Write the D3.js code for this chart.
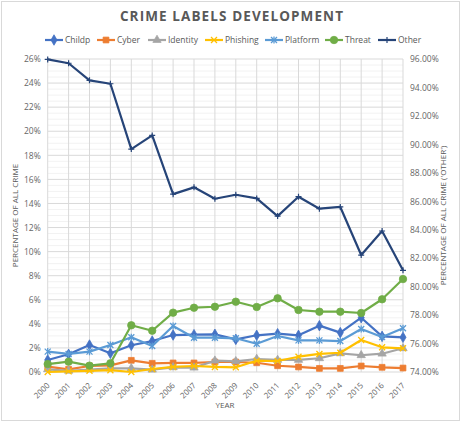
<!DOCTYPE html>
<html>
<head>
<meta charset="utf-8">
<script src="https://cdn.jsdelivr.net/npm/d3@7"></script>
<style>
  body { margin: 0; background: #fff; }
  svg text { font-family: "Open Sans", "Liberation Sans", sans-serif; fill: #595959; }
</style>
</head>
<body>
<div id="chart"></div>
<script>
"use strict";

// values in percent of all crime
var years = [2000, 2001, 2002, 2003, 2004, 2005, 2006, 2007, 2008, 2009, 2010, 2011, 2012, 2013, 2014, 2015, 2016, 2017];
var childp   = [1.00, 1.47, 2.24, 1.55, 2.22, 2.57, 3.07, 3.10, 3.13, 2.71, 3.05, 3.18, 3.05, 3.85, 3.27, 4.51, 2.96, 2.88];
var cyber    = [0.44, 0.22, 0.50, 0.55, 0.97, 0.72, 0.75, 0.75, 0.83, 0.83, 0.77, 0.52, 0.42, 0.30, 0.30, 0.50, 0.39, 0.33];
var identity = [0.22, 0.10, 0.20, 0.30, 0.30, 0.19, 0.39, 0.36, 0.94, 0.89, 1.08, 1.00, 1.00, 1.14, 1.55, 1.39, 1.52, 1.97];
var phishing = [0.00, 0.05, 0.10, 0.15, 0.00, 0.25, 0.42, 0.50, 0.42, 0.39, 0.94, 0.91, 1.27, 1.50, 1.60, 2.66, 2.05, 1.97];
var platform = [1.69, 1.50, 1.69, 2.24, 2.88, 2.16, 3.82, 2.85, 2.85, 2.80, 2.35, 2.99, 2.63, 2.63, 2.57, 3.57, 2.90, 3.63];
var threat   = [0.66, 0.86, 0.53, 0.72, 3.88, 3.43, 4.93, 5.34, 5.42, 5.84, 5.40, 6.12, 5.15, 5.01, 5.01, 4.90, 6.04, 7.72];
var other    = [95.97, 95.70, 94.50, 94.26, 89.67, 90.63, 86.50, 86.98, 86.18, 86.46, 86.20, 84.96, 86.32, 85.48, 85.60, 82.22, 83.91, 81.15];

var leftTicks = d3.range(0, 27, 2);
var rightTicks = d3.range(74, 97, 2);

var series = [
	{ name: "Childp",   values: childp,   color: "#4472C4", marker: "diamond" },
	{ name: "Cyber",    values: cyber,    color: "#ED7D31", marker: "square" },
	{ name: "Identity", values: identity, color: "#A5A5A5", marker: "triangle" },
	{ name: "Phishing", values: phishing, color: "#FFC000", marker: "x" },
	{ name: "Platform", values: platform, color: "#5B9BD5", marker: "star" },
	{ name: "Threat",   values: threat,   color: "#70AD47", marker: "circle" },
	{ name: "Other",    values: other,    color: "#264478", marker: "plus", secondary: true }
];

var W = 465, H = 422;
var plot = { left: 47.7, right: 403, top: 59, bottom: 372 };

var svg = d3.select("#chart").append("svg")
	.attr("width", W)
	.attr("height", H);

svg.append("rect")
	.attr("x", 1.5).attr("y", 1.5)
	.attr("width", 458).attr("height", 419)
	.attr("fill", "#fff")
	.attr("stroke", "#d9d9d9");

var x = d3.scalePoint().domain(years).range([plot.left, plot.right]);
var yL = d3.scaleLinear().domain([0, 26]).range([plot.bottom, plot.top]);
var yR = d3.scaleLinear().domain([74, 96]).range([plot.bottom, plot.top]);

// gridlines
var grid = svg.append("g");
grid.selectAll(".minor")
	.data(d3.range(0, 26.01, 0.5).filter(function (d) { return d % 2 !== 0; }))
	.enter().append("line")
	.attr("x1", plot.left).attr("x2", plot.right)
	.attr("y1", function (d) { return yL(d); })
	.attr("y2", function (d) { return yL(d); })
	.attr("stroke", "#ededed").attr("stroke-width", 0.75);
grid.selectAll(".major")
	.data(leftTicks)
	.enter().append("line")
	.attr("x1", plot.left).attr("x2", plot.right)
	.attr("y1", function (d) { return yL(d); })
	.attr("y2", function (d) { return yL(d); })
	.attr("stroke", "#d9d9d9").attr("stroke-width", 1);
grid.selectAll(".vert")
	.data(years)
	.enter().append("line")
	.attr("x1", function (d) { return x(d); })
	.attr("x2", function (d) { return x(d); })
	.attr("y1", plot.top).attr("y2", plot.bottom)
	.attr("stroke", "#d9d9d9").attr("stroke-width", 1);

// axes
var leftAxis = svg.append("g")
	.attr("transform", "translate(" + plot.left + ",0)")
	.call(d3.axisLeft(yL).tickValues(leftTicks).tickFormat(function (d) { return d + "%"; }).tickSize(0).tickPadding(7));
var rightAxis = svg.append("g")
	.attr("transform", "translate(" + plot.right + ",0)")
	.call(d3.axisRight(yR).tickValues(rightTicks).tickFormat(function (d) { return d3.format(".2f")(d) + "%"; }).tickSize(0).tickPadding(7));
var bottomAxis = svg.append("g")
	.attr("transform", "translate(0," + plot.bottom + ")")
	.call(d3.axisBottom(x).tickSize(0).tickPadding(0));

[leftAxis, rightAxis, bottomAxis].forEach(function (a) {
	a.select(".domain").remove();
	a.selectAll("text").attr("font-size", "8.5px").style("fill", "#666666").attr("font-family", null);
});
bottomAxis.selectAll("text")
	.attr("font-size", "8px")
	.attr("text-anchor", "end")
	.attr("dy", 0)
	.attr("transform", "translate(2,14) rotate(-45)");

// lines and markers
var symbols = {
	diamond: d3.symbol().type(d3.symbolDiamond).size(32),
	square: d3.symbol().type(d3.symbolSquare).size(34),
	triangle: d3.symbol().type(d3.symbolTriangle).size(30),
	circle: d3.symbol().type(d3.symbolCircle).size(44)
};

function drawMarker(g, type, color) {
	if (symbols[type]) {
		g.append("path").attr("d", symbols[type]()).attr("fill", color).attr("stroke", color).attr("stroke-width", 0.75);
	} else if (type === "x" || type === "star") {
		var r = 3;
		g.append("path").attr("d", "M" + -r + "," + -r + "L" + r + "," + r + "M" + -r + "," + r + "L" + r + "," + -r)
			.attr("stroke", color).attr("stroke-width", 1.3).attr("fill", "none");
		if (type === "star") {
			g.append("path").attr("d", "M0," + (-r - 0.6) + "L0," + (r + 0.6))
				.attr("stroke", color).attr("stroke-width", 1.3);
		}
	} else if (type === "plus") {
		var p = 3;
		g.append("path").attr("d", "M" + -p + ",0L" + p + ",0M0," + -p + "L0," + p)
			.attr("stroke", color).attr("stroke-width", 1.2);
	}
}

series.forEach(function (s) {
	var yScale = s.secondary ? yR : yL;
	var line = d3.line()
		.x(function (d, i) { return x(years[i]); })
		.y(function (d) { return yScale(d); });
	var g = svg.append("g");
	g.append("path")
		.datum(s.values)
		.attr("d", line)
		.attr("fill", "none")
		.attr("stroke", s.color)
		.attr("stroke-width", 2.2)
		.attr("stroke-linejoin", "round");
	g.selectAll(".m")
		.data(s.values)
		.enter().append("g")
		.attr("transform", function (d, i) { return "translate(" + x(years[i]) + "," + yScale(d) + ")"; })
		.each(function () { drawMarker(d3.select(this), s.marker, s.color); });
});

// title
svg.append("text")
	.attr("x", 232).attr("y", 21)
	.attr("text-anchor", "middle")
	.attr("font-size", "13.5px")
	.attr("font-weight", "bold")
	.attr("letter-spacing", "1.1px")
	.text("CRIME LABELS DEVELOPMENT");

// legend
var legendX = [45, 97, 148, 205, 265, 325, 378];
var legend = svg.selectAll(".legend")
	.data(series)
	.enter().append("g")
	.attr("transform", function (d, i) { return "translate(" + legendX[i] + ",40)"; });
legend.append("line")
	.attr("x1", 0).attr("x2", 18)
	.attr("stroke", function (d) { return d.color; })
	.attr("stroke-width", 2.2);
legend.append("g")
	.attr("transform", "translate(9,0)")
	.each(function (d) { drawMarker(d3.select(this), d.marker, d.color); });
legend.append("text")
	.attr("x", 20).attr("y", 3)
	.attr("font-size", "8.5px")
	.text(function (d) { return d.name; });

// axis titles
svg.append("text")
	.attr("transform", "translate(18," + ((plot.top + plot.bottom) / 2) + ") rotate(-90)")
	.attr("text-anchor", "middle")
	.attr("font-size", "8px")
	.text("PERCENTAGE OF ALL CRIME");
svg.append("text")
	.attr("transform", "translate(446," + ((plot.top + plot.bottom) / 2) + ") rotate(-90)")
	.attr("text-anchor", "middle")
	.attr("font-size", "8px")
	.text("PERCENTAGE OF ALL CRIME ('OTHER')");
svg.append("text")
	.attr("x", 225).attr("y", 408)
	.attr("text-anchor", "middle")
	.attr("font-size", "8px")
	.text("YEAR");
</script>
</body>
</html>
